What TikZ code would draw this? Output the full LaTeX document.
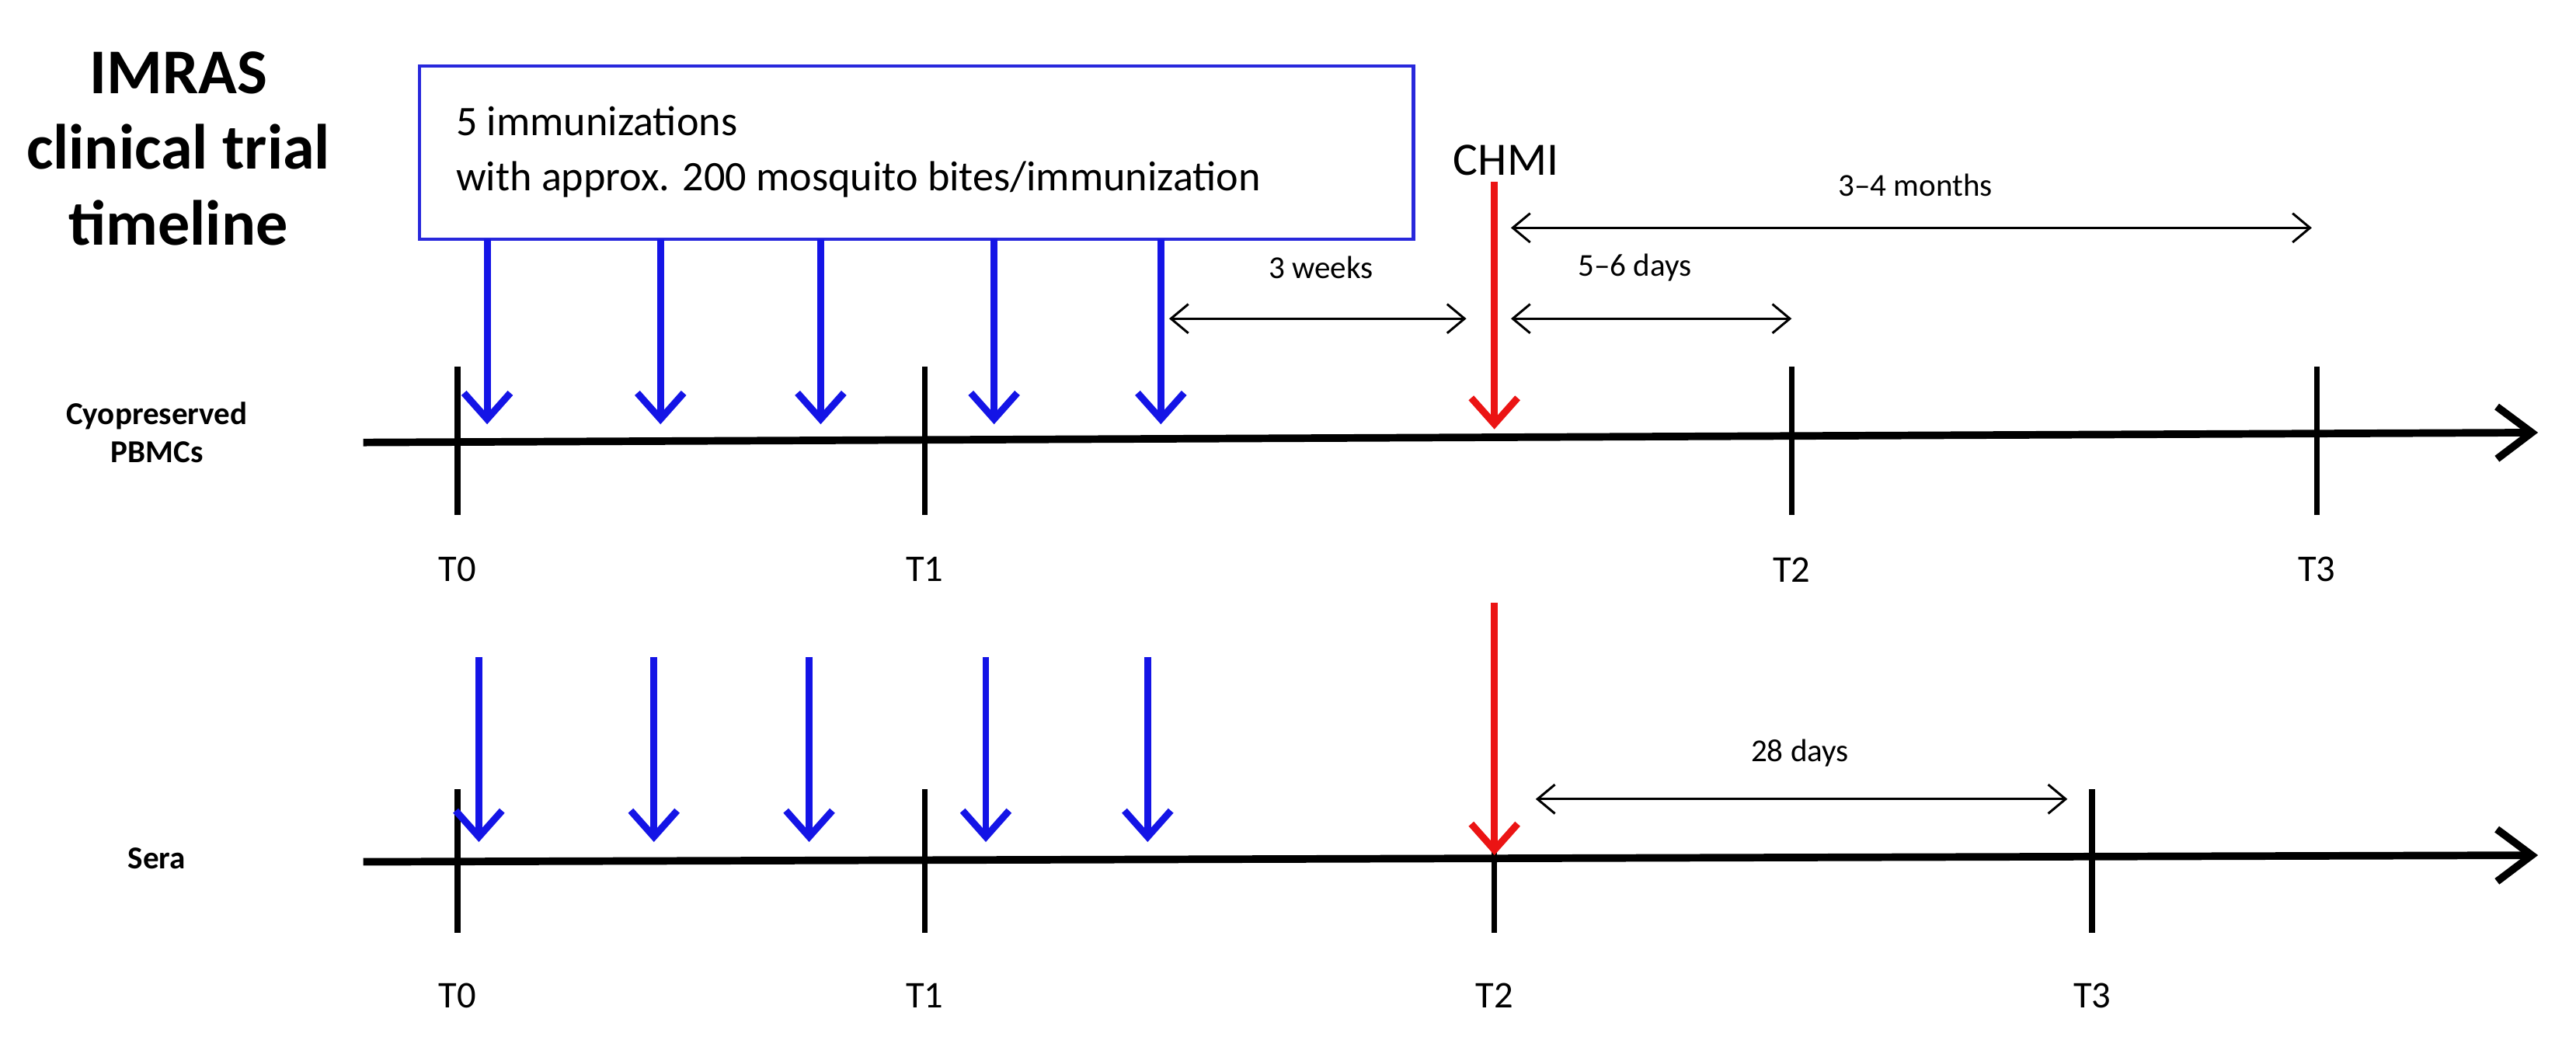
\documentclass[tikz,border=0pt]{standalone}
\usepackage{fontspec}
\setmainfont{Carlito}
\usetikzlibrary{arrows.meta}
\definecolor{bxblue}{RGB}{40,40,220}
\definecolor{arblue}{RGB}{20,20,230}
\definecolor{arred}{RGB}{235,20,20}
\begin{document}
\begin{tikzpicture}[x=0.02cm,y=-0.02cm,
 axis/.style={line width=2.6pt,-{Straight Barb[length=12pt,width=18pt,line width=2.6pt]}},
 tick/.style={line width=2pt},
 blue arr/.style={draw=arblue,line width=2.4pt,-{Straight Barb[length=9pt,width=16pt,line width=2.4pt]}},
 red arr/.style={draw=arred,line width=2.4pt,-{Straight Barb[length=9pt,width=16pt,line width=2.4pt]}},
 span/.style={line width=0.8pt,{Straight Barb[length=6pt,width=10pt]}-{Straight Barb[length=6pt,width=10pt]}},
 tl/.style={font=\fontsize{13}{15}\selectfont},
 sl/.style={font=\fontsize{11}{13}\selectfont},
 side/.style={font=\bfseries\fontsize{11}{13}\selectfont,align=center}]
\useasboundingbox (0,0) rectangle (1560,638);
\node[font=\bfseries\fontsize{22}{26}\selectfont,align=center] (title) at (108,90) {IMRAS\\clinical trial\\timeline};
\node[side] (pbmc) at (95,262) {Cyopreserved\\PBMCs};
\node[side] (sera) at (95,520) {Sera};
\draw[bxblue,line width=1.2pt] (254,40) rectangle (856,145);
\node[anchor=west,align=left,font=\fontsize{14.5}{19}\selectfont] (boxtxt) at (270,92) {5 immunizations\\with approx. 200 mosquito bites/immunization};
\node[font=\fontsize{16}{18}\selectfont] (chmi) at (912,97) {CHMI};
% top axis
\coordinate (a1) at (220,268); \coordinate (a2) at (1537,262);
\draw[axis] (a1) -- (a2);
\foreach \x/\n in {277/T0,560/T1,1085/T2,1403/T3}{
 \draw[tick] (\x,222) -- (\x,312);
 \node[tl] (top\n) at (\x,345) {\n};}
\foreach \x/\i in {295/1,400/2,497/3,602/4,703/5}{
 \coordinate (bs\i) at (\x,145); \coordinate (be\i) at (\x,257);
 \draw[blue arr] (bs\i) -- (be\i);}
\coordinate (rs1) at (905,110); \coordinate (re1) at (905,260);
\draw[red arr] (rs1) -- (re1);
\coordinate (w1) at (708,193); \coordinate (w2) at (888,193);
\draw[span] (w1) -- (w2); \node[sl] (wl) at (800,162) {3 weeks};
\coordinate (d1) at (915,193); \coordinate (d2) at (1085,193);
\draw[span] (d1) -- (d2); \node[sl] (dl) at (990,162) {5–6 days};
\coordinate (m1) at (915,138); \coordinate (m2) at (1400,138);
\draw[span] (m1) -- (m2); \node[sl] (ml) at (1160,112) {3–4 months};
% bottom axis
\coordinate (b1) at (220,522); \coordinate (b2) at (1537,518);
\draw[axis] (b1) -- (b2);
\foreach \x/\n in {277/T0,560/T1,905/T2,1267/T3}{
 \draw[tick] (\x,478) -- (\x,565);
 \node[tl] (bot\n) at (\x,603) {\n};}
\foreach \x/\i in {290/1,396/2,490/3,597/4,695/5}{
 \coordinate (cs\i) at (\x,398); \coordinate (ce\i) at (\x,510);
 \draw[blue arr] (cs\i) -- (ce\i);}
\coordinate (rs2) at (905,365); \coordinate (re2) at (905,518);
\draw[red arr] (rs2) -- (re2);
\coordinate (e1) at (930,484); \coordinate (e2) at (1252,484);
\draw[span] (e1) -- (e2); \node[sl] (el) at (1090,456) {28 days};
\end{tikzpicture}
\end{document}
